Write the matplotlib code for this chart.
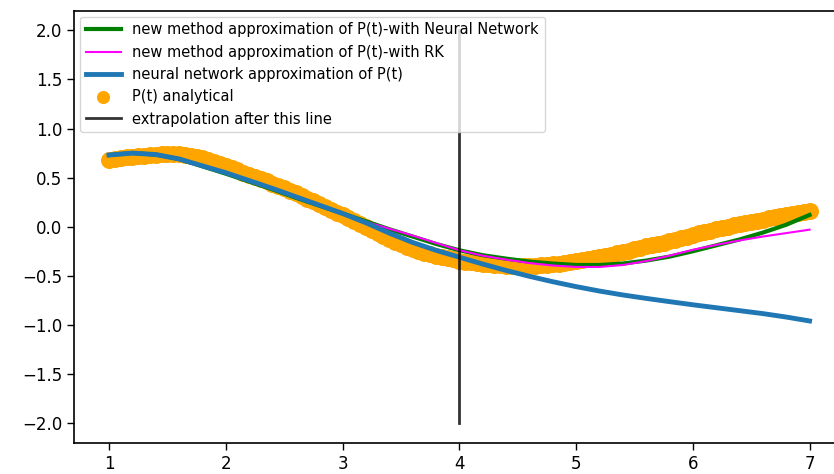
import numpy as np
import matplotlib
matplotlib.use("Agg")
import matplotlib.pyplot as plt

# --- data ---
t_ana = np.round(np.arange(1.0, 7.0001, 0.05), 2)
p_ana = [
    0.680, 0.688, 0.697, 0.705, 0.712, 0.719, 0.725, 0.730, 0.735, 0.739,
    0.742, 0.741, 0.738, 0.731, 0.722, 0.710, 0.695, 0.677, 0.658, 0.637,
    0.615, 0.594, 0.573, 0.552, 0.530, 0.508, 0.486, 0.463, 0.440, 0.416,
    0.391, 0.366, 0.340, 0.313, 0.286, 0.258, 0.230, 0.201, 0.173, 0.144,
    0.115, 0.085, 0.055, 0.025, -0.005, -0.035, -0.065, -0.095, -0.125, -0.152,
    -0.178, -0.202, -0.225, -0.245, -0.263, -0.280, -0.295, -0.308, -0.321, -0.333,
    -0.345, -0.356, -0.363, -0.370, -0.377, -0.383, -0.388, -0.392, -0.396, -0.398,
    -0.400, -0.400, -0.399, -0.397, -0.393, -0.388, -0.382, -0.375, -0.367, -0.359,
    -0.350, -0.340, -0.330, -0.320, -0.309, -0.297, -0.285, -0.272, -0.259, -0.245,
    -0.231, -0.216, -0.201, -0.188, -0.175, -0.162, -0.148, -0.133, -0.117, -0.100,
    -0.082, -0.067, -0.053, -0.039, -0.025, -0.012, 0.001, 0.014, 0.027, 0.039,
    0.051, 0.062, 0.073, 0.084, 0.095, 0.105, 0.115, 0.125, 0.135, 0.145,
    0.155,
]

t = np.round(np.arange(1.0, 7.0001, 0.2), 2)
p_nn = [0.73, 0.75, 0.735, 0.69, 0.62, 0.55, 0.47, 0.39, 0.305, 0.22,
        0.135, 0.04, -0.065, -0.16, -0.24, -0.31, -0.38, -0.445, -0.505, -0.56,
        -0.61, -0.655, -0.695, -0.73, -0.763, -0.795, -0.825, -0.855, -0.885, -0.92,
        -0.96]
p_new_nn = [0.73, 0.75, 0.735, 0.69, 0.615, 0.54, 0.46, 0.38, 0.295, 0.215,
            0.135, 0.055, -0.025, -0.10, -0.175, -0.24, -0.29, -0.325, -0.355, -0.375,
            -0.39, -0.39, -0.375, -0.345, -0.305, -0.25, -0.19, -0.13, -0.06, 0.02,
            0.12]

t_rk = np.round(np.arange(3.2, 7.0001, 0.2), 2)
p_new_rk = [0.05, -0.02, -0.09, -0.165, -0.24, -0.295, -0.335, -0.37, -0.395, -0.41,
            -0.41, -0.39, -0.35, -0.295, -0.235, -0.185, -0.14, -0.10, -0.065, -0.03]

T_EXTRA = 4  # extrapolation starts here

# --- plot ---
fig = plt.figure(figsize=(8.34, 4.74), dpi=100)
ax = fig.add_axes([0.0887, 0.066, 0.924, 0.9114])

ax.plot(t, p_new_nn, color="green", lw=3,
        label="new method approximation of P(t)-with Neural Network")
ax.plot(t_rk, p_new_rk, color="magenta", lw=1.5,
        label="new method approximation of P(t)-with RK")
ax.plot(t, p_nn, color="#1f77b4", lw=3.5,
        label="neural network approximation of P(t)")
ax.scatter(t_ana, p_ana, color="orange", s=150, linewidths=0,
           label="P(t) analytical")
ax.plot([T_EXTRA, T_EXTRA], [-2, 2], color="black", alpha=0.8, lw=2,
        label="extrapolation after this line")

ax.set_xlim(0.7, 7.3)
ax.set_ylim(-2.2, 2.2)
ax.set_xticks([1, 2, 3, 4, 5, 6, 7])
ax.set_yticks([-2.0, -1.5, -1.0, -0.5, 0.0, 0.5, 1.0, 1.5, 2.0])
ax.tick_params(labelsize=12, length=5, width=1)
for s in ax.spines.values():
    s.set_linewidth(1.2)

ax.legend(loc="upper left", fontsize=10.5, handlelength=2.4,
          borderaxespad=0.4, markerscale=0.77)

fig.savefig("out.png", dpi=100)
